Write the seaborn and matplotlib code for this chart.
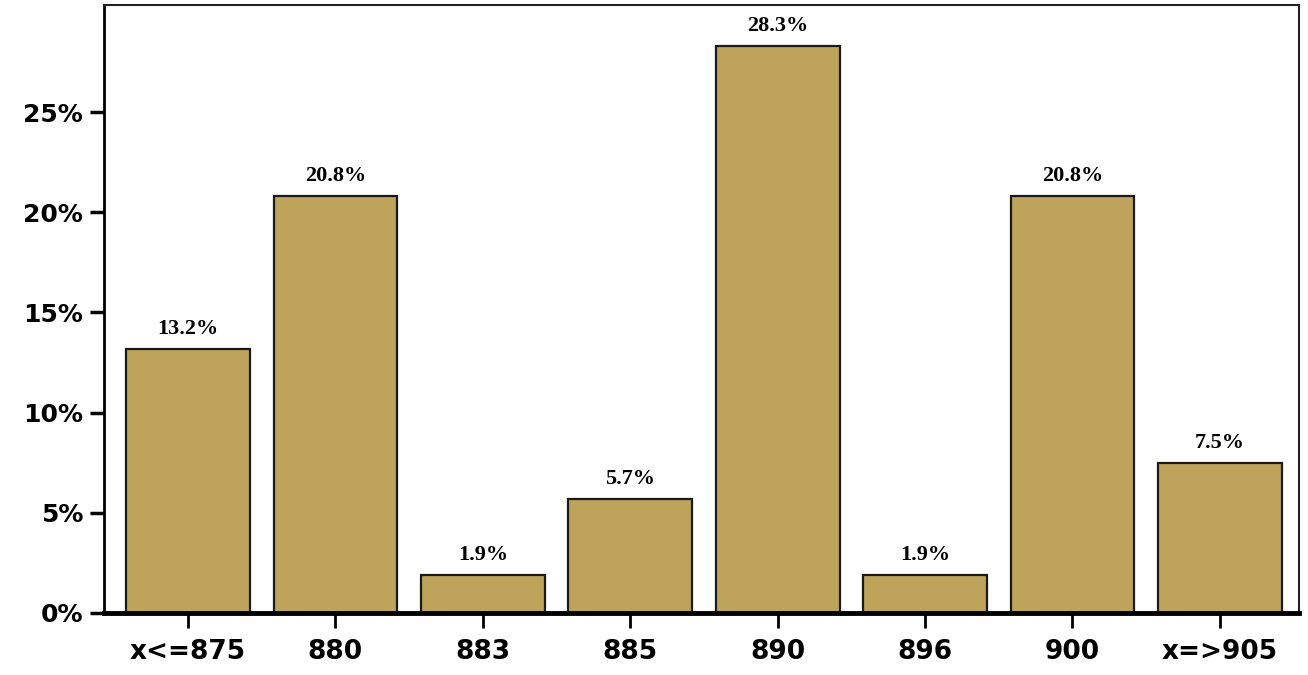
import matplotlib
matplotlib.use("Agg")
import matplotlib.pyplot as plt
import seaborn as sns
import pandas as pd

# data
categories = ["x<=875", "880", "883", "885", "890", "896", "900", "x=>905"]
percent = [13.2, 20.8, 1.9, 5.7, 28.3, 1.9, 20.8, 7.5]
y_ticks = [0, 5, 10, 15, 20, 25]

df = pd.DataFrame({"cat": categories, "pct": percent})

sns.set_theme(style="ticks")
plt.rcParams['font.family'] = ['DejaVu Sans']

fig = plt.figure(figsize=(13.08, 6.75), dpi=100)
ax = fig.add_axes([0.0795, 0.092, 0.914, 0.9005])

sns.barplot(data=df, x="cat", y="pct", color="#bea45a", saturation=1,
            width=0.84, edgecolor="#1a1a1a", linewidth=1.6, ax=ax)

# labels over bars
for i, v in enumerate(percent):
    ax.text(i, v + 0.5, f"{v:.1f}%", ha="center", va="bottom", color="black",
            family=["Liberation Serif"], fontweight="bold", fontsize=16)

ax.set_xlim(-0.57, 7.54)
ax.set_ylim(0, 30.35)
ax.set_yticks(y_ticks)
ax.set_yticklabels([f"{t}%" for t in y_ticks])
ax.set_xlabel("")
ax.set_ylabel("")

ax.tick_params(axis="both", which="both", direction="out", colors="black",
               labelcolor="black")
ax.tick_params(axis="y", labelsize=18, pad=5, length=10, width=2.5, left=True)
ax.tick_params(axis="x", labelsize=19, pad=8, length=11, width=2, bottom=True)
for lbl in ax.get_xticklabels() + ax.get_yticklabels():
    lbl.set_fontweight("bold")

for side in ["top", "right"]:
    ax.spines[side].set_visible(True)
    ax.spines[side].set_linewidth(1.5)
    ax.spines[side].set_color("#222222")
ax.spines["left"].set_linewidth(2)
ax.spines["left"].set_color("black")
ax.spines["bottom"].set_linewidth(3.5)
ax.spines["bottom"].set_color("black")

fig.savefig("out.png", dpi=100, facecolor="white")
